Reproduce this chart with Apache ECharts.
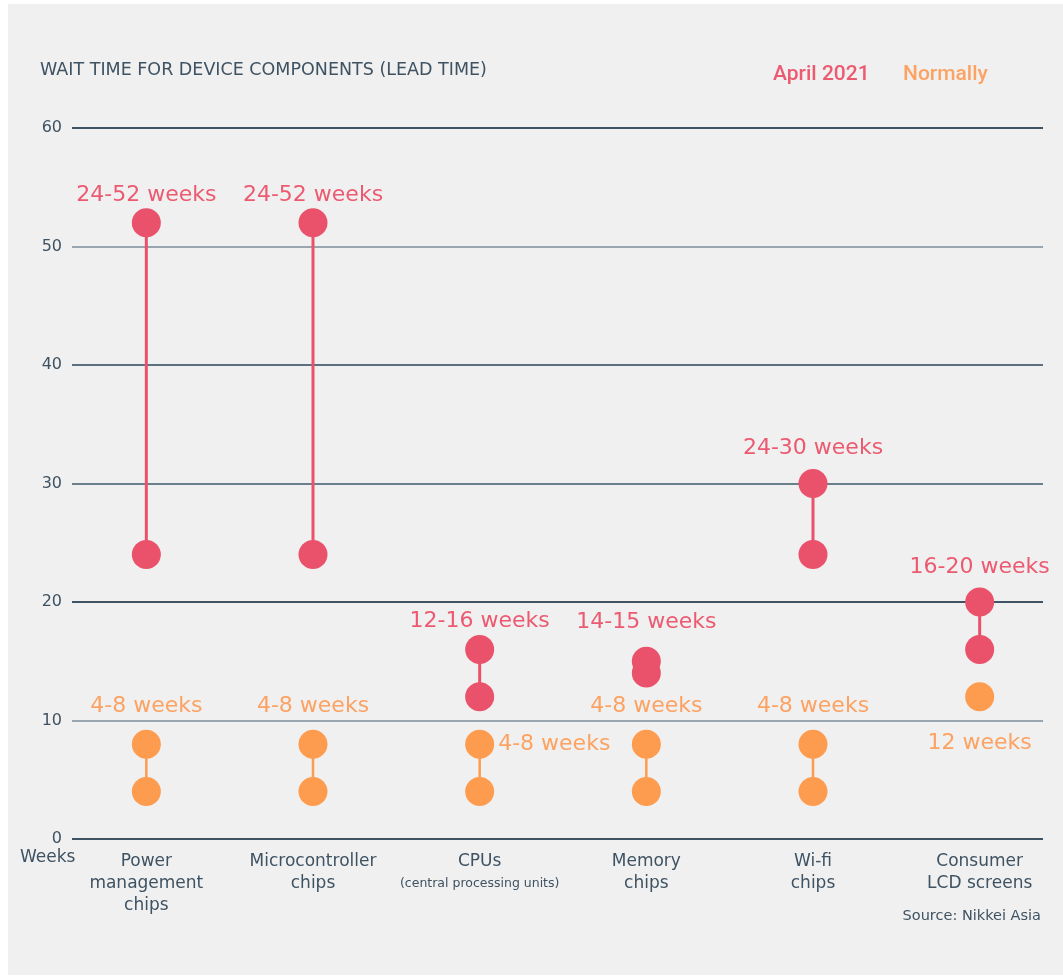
<!DOCTYPE html>
<html>
<head>
<meta charset="utf-8">
<title>Wait time for device components</title>
<script src="https://cdn.jsdelivr.net/npm/echarts@6/dist/echarts.min.js"></script>
<style>
  html, body { margin: 0; padding: 0; background: #ffffff; }
  #chart { width: 1063px; height: 978px; }
</style>
</head>
<body>
<div id="chart"></div>
<script>
// Lead times in weeks, per component type
const categories = [
  'Power\nmanagement\nchips',
  'Microcontroller\nchips',
  'CPUs',
  'Memory\nchips',
  'Wi-fi\nchips',
  'Consumer\nLCD screens'
];
const aprilLow = [24, 24, 12, 14, 24, 16];
const aprilHigh = [52, 52, 16, 15, 30, 20];
const aprilLabels = ['24-52 weeks', '24-52 weeks', '12-16 weeks', '14-15 weeks', '24-30 weeks', '16-20 weeks'];
const normalLow = [4, 4, 4, 4, 4, 12];
const normalHigh = [8, 8, 8, 8, 8, 12];
const normalLabels = ['4-8 weeks', '4-8 weeks', '4-8 weeks', '4-8 weeks', '4-8 weeks', '12 weeks'];
const yTicks = [0, 10, 20, 30, 40, 50, 60];

const RED = '#e9526a';
const RED_TEXT = '#ec5a71';
const ORANGE = '#fd9b4f';
const ORANGE_TEXT = '#fca262';
const INK = '#3e5262';
const FONT = 'DejaVu Sans';

// where each value label sits relative to its dot
const aprilPlace = [
  { position: 'top', distance: 2 },
  { position: 'top', distance: 2 },
  { position: 'top', distance: 3 },
  { position: 'top', distance: 13 },
  { position: 'top', distance: 10 },
  { position: 'top', distance: 9 }
];
const normalPlace = [
  { position: 'top', distance: 12 },
  { position: 'top', distance: 12 },
  { position: 'right', distance: 4 },
  { position: 'top', distance: 12 },
  { position: 'top', distance: 12 },
  { position: 'bottom', distance: 21 }
];

function dots(low, high, labels, place, textColor) {
  const out = [];
  low.forEach((lo, i) => {
    const hi = high[i];
    const lab = {
      show: true,
      formatter: labels[i],
      position: place[i].position,
      distance: place[i].distance,
      color: textColor,
      fontFamily: FONT,
      fontSize: 22
    };
    if (lo !== hi) out.push({ value: [i, lo] });
    out.push({ value: [i, hi], label: lab });
  });
  return out;
}

function connector(color, width) {
  return function (params, api) {
    const x = api.value(0);
    const p1 = api.coord([x, api.value(1)]);
    const p2 = api.coord([x, api.value(2)]);
    return {
      type: 'line',
      shape: { x1: p1[0], y1: p1[1], x2: p2[0], y2: p2[1] },
      style: { stroke: color, lineWidth: width }
    };
  };
}

const ranges = (low, high) => low.map((v, i) => [i, v, high[i]]);

const chart = echarts.init(document.getElementById('chart'), null, { renderer: 'canvas' });

chart.setOption({
  backgroundColor: 'transparent',
  animation: false,
  graphic: [
    { type: 'rect', z: -10, silent: true, shape: { x: 8, y: 4, width: 1055, height: 971 }, style: { fill: '#f0f0f0' } },
    { type: 'text', left: 40, top: 61, style: { text: 'WAIT TIME FOR DEVICE COMPONENTS (LEAD TIME)', fill: INK, font: '17.5px "DejaVu Sans"' } },
    { type: 'text', left: 773, top: 64, style: { text: 'April 2021', fill: RED_TEXT, font: '500 21px Roboto' } },
    { type: 'text', left: 903, top: 64, style: { text: 'Normally', fill: ORANGE_TEXT, font: '500 21px Roboto' } },
    { type: 'text', left: 20, top: 849, style: { text: 'Weeks', fill: INK, font: '17px "DejaVu Sans"' } },
    { type: 'text', right: 22, top: 909, style: { text: 'Source: Nikkei Asia', fill: INK, font: '14.5px "DejaVu Sans"' } }
  ],
  grid: [
    { left: 72, right: 20, top: 128, bottom: 139 },
    { left: 63, right: -6, top: 128, bottom: 139 }
  ],
  xAxis: [
    { gridIndex: 0, type: 'value', show: false, min: 0, max: 1 },
    {
      gridIndex: 1,
      type: 'category',
      data: categories,
      axisLine: { show: false },
      axisTick: { show: false },
      axisLabel: {
        margin: 12,
        color: INK,
        fontFamily: FONT,
        fontSize: 17,
        lineHeight: 22,
        interval: 0,
        formatter: (v) => v === 'CPUs'
          ? '{a|CPUs}\n{b|(central processing units)}'
          : v,
        rich: {
          a: { color: INK, fontFamily: FONT, fontSize: 17, lineHeight: 22 },
          b: { color: INK, fontFamily: FONT, fontSize: 12.5, lineHeight: 22 }
        }
      }
    }
  ],
  yAxis: [
    {
      gridIndex: 0,
      type: 'value',
      min: yTicks[0],
      max: yTicks[yTicks.length - 1],
      interval: 10,
      axisLine: { show: false },
      axisTick: { show: false },
      axisLabel: { margin: 10, color: INK, fontFamily: FONT, fontSize: 16 },
      splitLine: {
        lineStyle: {
          color: ['#3e5363', '#97a6b1', '#3e5363', '#6b7e8b', '#5d7080', '#97a6b1', '#3e5363'],
          width: 2
        }
      }
    },
    { gridIndex: 1, type: 'value', min: yTicks[0], max: yTicks[yTicks.length - 1], show: false }
  ],
  series: [
    {
      name: 'Normally range',
      type: 'custom',
      xAxisIndex: 1, yAxisIndex: 1,
      renderItem: connector(ORANGE, 2.5),
      encode: { x: 0, y: [1, 2] },
      data: ranges(normalLow, normalHigh),
      z: 2
    },
    {
      name: 'Normally',
      type: 'scatter',
      xAxisIndex: 1, yAxisIndex: 1,
      symbolSize: 29,
      itemStyle: { color: ORANGE, opacity: 1 },
      data: dots(normalLow, normalHigh, normalLabels, normalPlace, ORANGE_TEXT),
      z: 3
    },
    {
      name: 'April 2021 range',
      type: 'custom',
      xAxisIndex: 1, yAxisIndex: 1,
      renderItem: connector(RED, 3),
      encode: { x: 0, y: [1, 2] },
      data: ranges(aprilLow, aprilHigh),
      z: 4
    },
    {
      name: 'April 2021',
      type: 'scatter',
      xAxisIndex: 1, yAxisIndex: 1,
      symbolSize: 29,
      itemStyle: { color: RED, opacity: 1 },
      data: dots(aprilLow, aprilHigh, aprilLabels, aprilPlace, RED_TEXT),
      z: 5
    }
  ]
});
</script>
</body>
</html>
